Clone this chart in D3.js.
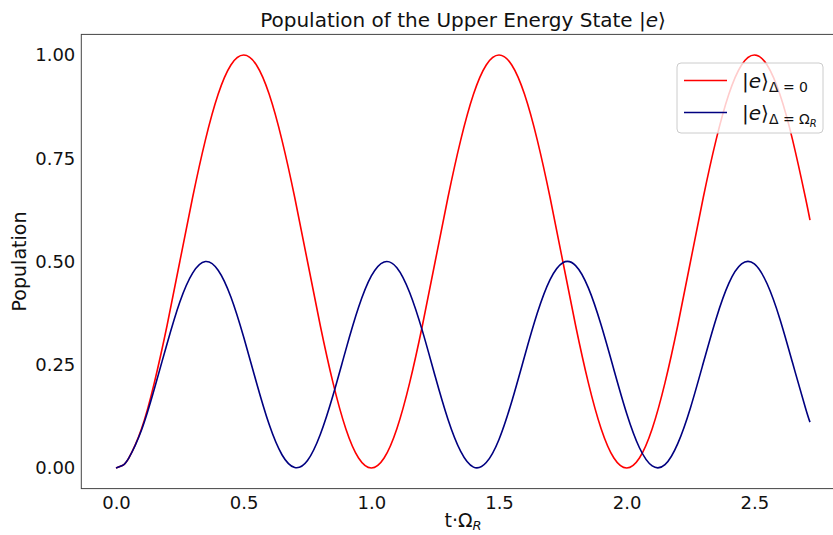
<!DOCTYPE html>
<html>
<head>
<meta charset="utf-8">
<script src="https://cdn.jsdelivr.net/npm/d3@7.9.0/dist/d3.min.js"></script>
<style>
  body { margin: 0; background: #fff; }
  svg { font-family: "DejaVu Sans", sans-serif; }
</style>
</head>
<body>
<svg id="chart" width="833" height="535"></svg>
<script>
// time samples (t·Ω_R), every 0.05 plus the last point
const times = [
  0.00, 0.025, 0.05, 0.10, 0.15, 0.20, 0.25, 0.30, 0.35, 0.40, 0.45,
  0.50, 0.55, 0.60, 0.65, 0.70, 0.75, 0.80, 0.85, 0.90, 0.95,
  1.00, 1.05, 1.10, 1.15, 1.20, 1.25, 1.30, 1.35, 1.40, 1.45,
  1.50, 1.55, 1.60, 1.65, 1.70, 1.75, 1.80, 1.85, 1.90, 1.95,
  2.00, 2.05, 2.10, 2.15, 2.20, 2.25, 2.30, 2.35, 2.40, 2.45,
  2.50, 2.55, 2.60, 2.65, 2.70, 2.718
];
// population |e>, resonant (Δ = 0)
const popResonant = [
  0.000, 0.006, 0.024, 0.095, 0.206, 0.345, 0.500, 0.655, 0.794, 0.905, 0.976,
  1.000, 0.976, 0.905, 0.794, 0.655, 0.500, 0.345, 0.206, 0.095, 0.024,
  0.000, 0.024, 0.095, 0.206, 0.345, 0.500, 0.655, 0.794, 0.905, 0.976,
  1.000, 0.976, 0.905, 0.794, 0.655, 0.500, 0.345, 0.206, 0.095, 0.024,
  0.000, 0.024, 0.095, 0.206, 0.345, 0.500, 0.655, 0.794, 0.905, 0.976,
  1.000, 0.976, 0.905, 0.794, 0.655, 0.600
];
// population |e>, detuned (Δ = Ω_R)
const popDetuned = [
  0.000, 0.006, 0.024, 0.092, 0.191, 0.301, 0.402, 0.472, 0.500, 0.479, 0.414,
  0.317, 0.207, 0.105, 0.032, 0.001, 0.018, 0.081, 0.176, 0.286, 0.389,
  0.465, 0.499, 0.485, 0.425, 0.332, 0.222, 0.118, 0.040, 0.002, 0.013,
  0.069, 0.161, 0.270, 0.375, 0.456, 0.497, 0.490, 0.436, 0.346, 0.238,
  0.132, 0.049, 0.005, 0.008, 0.059, 0.146, 0.254, 0.361, 0.447, 0.494,
  0.494, 0.446, 0.361, 0.254, 0.146, 0.111
];
const xTicks = [0.0, 0.5, 1.0, 1.5, 2.0, 2.5];
const yTicks = [0.00, 0.25, 0.50, 0.75, 1.00];

const svg = d3.select('#chart');
const plotLeft = 81.3, plotRight = 844.7, plotTop = 34.4, plotBottom = 488.6;

const x = d3.scaleLinear().domain([-0.1359, 2.8539]).range([plotLeft, plotRight]);
const y = d3.scaleLinear().domain([-0.05, 1.05]).range([plotBottom, plotTop]);

// curves
const line = d3.line()
  .x((d) => x(d[0]))
  .y((d) => y(d[1]))
  .curve(d3.curveNatural);

svg.append('path')
  .datum(times.map((t, i) => [t, popResonant[i]]))
  .attr('d', line)
  .attr('fill', 'none')
  .attr('stroke', '#ff0000')
  .attr('stroke-width', 1.6);

svg.append('path')
  .datum(times.map((t, i) => [t, popDetuned[i]]))
  .attr('d', line)
  .attr('fill', 'none')
  .attr('stroke', '#000080')
  .attr('stroke-width', 1.6);

// frame
svg.append('rect')
  .attr('x', plotLeft).attr('y', plotTop)
  .attr('width', plotRight - plotLeft).attr('height', plotBottom - plotTop)
  .attr('fill', 'none')
  .attr('stroke', '#444')
  .attr('stroke-width', 1);

// axes
const xAxis = svg.append('g')
  .attr('transform', `translate(0,${plotBottom})`)
  .call(d3.axisBottom(x).tickValues(xTicks).tickFormat(d3.format('.1f')).tickSize(0).tickPadding(8));
const yAxis = svg.append('g')
  .attr('transform', `translate(${plotLeft},0)`)
  .call(d3.axisLeft(y).tickValues(yTicks).tickFormat(d3.format('.2f')).tickSize(0).tickPadding(6));
[xAxis, yAxis].forEach((g) => {
  g.select('.domain').remove();
  g.selectAll('text')
    .attr('fill', '#111')
    .style('font-size', '18px')
    .style('font-family', '"DejaVu Sans", sans-serif');
});

// title and labels
svg.append('text')
  .attr('x', (plotLeft + plotRight) / 2).attr('y', 27)
  .attr('text-anchor', 'middle')
  .style('font-size', '20px')
  .attr('fill', '#111')
  .html('Population of the Upper Energy State |<tspan font-style="italic">e</tspan>⟩');

svg.append('text')
  .attr('x', (plotLeft + plotRight) / 2).attr('y', 527)
  .attr('text-anchor', 'middle')
  .style('font-size', '19px')
  .attr('fill', '#111')
  .html('t·Ω<tspan font-size="13px" font-style="italic" dy="3">R</tspan>');

svg.append('text')
  .attr('transform', `translate(26,${(plotTop + plotBottom) / 2}) rotate(-90)`)
  .attr('text-anchor', 'middle')
  .style('font-size', '19px')
  .attr('fill', '#111')
  .text('Population');

// legend
const legend = svg.append('g');
legend.append('rect')
  .attr('x', 677).attr('y', 63)
  .attr('width', 146).attr('height', 70)
  .attr('rx', 4)
  .attr('fill', '#fff').attr('fill-opacity', 0.8)
  .attr('stroke', '#cccccc');

const entries = [
  { color: '#ff0000', sub: 'Δ = 0', y: 80.5 },
  { color: '#000080', sub: 'Δ = Ω', y: 112.5, r: true }
];
entries.forEach((e) => {
  legend.append('line')
    .attr('x1', 684).attr('x2', 727)
    .attr('y1', e.y).attr('y2', e.y)
    .attr('stroke', e.color).attr('stroke-width', 1.6);
  const t = legend.append('text')
    .attr('x', 742).attr('y', e.y + 7)
    .style('font-size', '20px')
    .attr('fill', '#111');
  t.append('tspan').text('|');
  t.append('tspan').attr('font-style', 'italic').text('e');
  t.append('tspan').text('⟩');
  t.append('tspan').attr('font-size', '14px').attr('dy', 4).text(e.sub);
  if (e.r) {
    t.append('tspan').attr('font-size', '10px').attr('font-style', 'italic').attr('dy', 3).text('R');
  }
});
</script>
</body>
</html>
